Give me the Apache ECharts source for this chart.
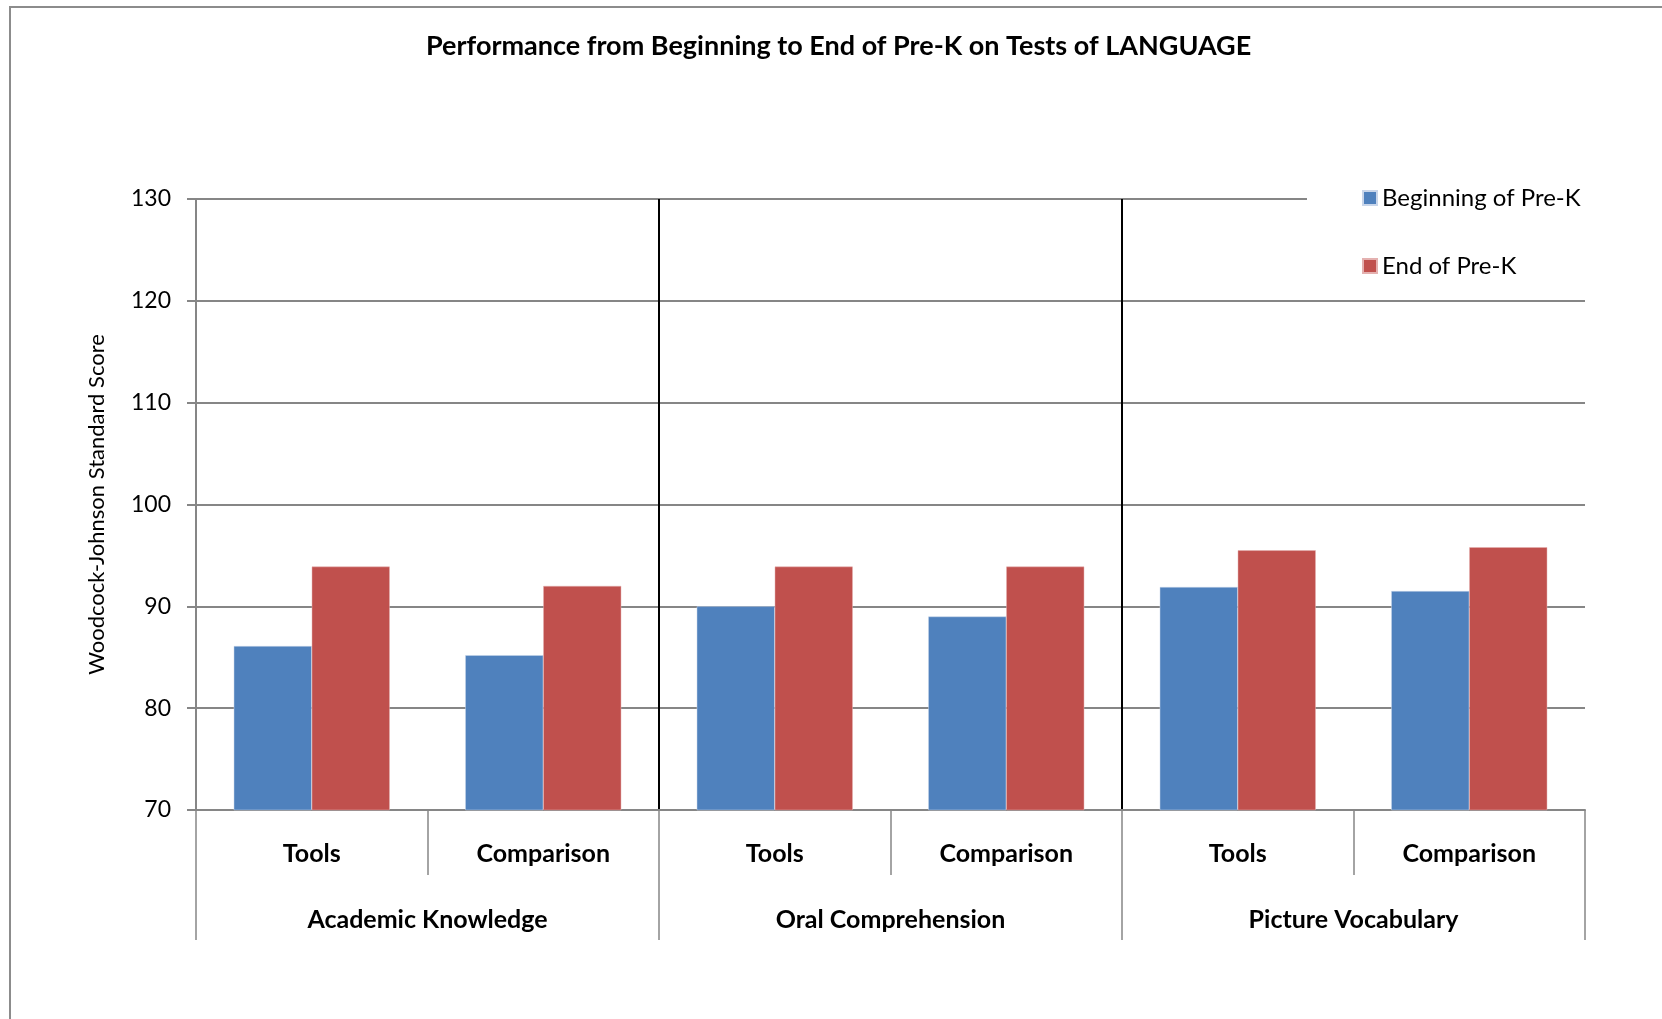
<!DOCTYPE html>
<html>
<head>
<meta charset="utf-8">
<script src="https://cdn.jsdelivr.net/npm/echarts@6/dist/echarts.min.js"></script>
<style>
    html, body { margin: 0; padding: 0; background: #fff; }
    .frame {
        position: absolute;
        left: 9px;
        top: 6px;
        width: 1800px;
        height: 1200px;
        border-left: 2px solid #8c8c8c;
        border-top: 2px solid #8c8c8c;
    }
    #main {
        position: absolute;
        left: 0;
        top: 0;
        width: 1662px;
        height: 1019px;
    }
</style>
</head>
<body>
<div class="frame"></div>
<div id="main"></div>
<script>
var conditions = ['Tools', 'Comparison', 'Tools', 'Comparison', 'Tools', 'Comparison'];
var tests = ['Academic Knowledge', 'Oral Comprehension', 'Picture Vocabulary'];
var beginning = [86.1, 85.2, 90.0, 89.0, 91.9, 91.5];
var ending = [93.9, 92.0, 93.9, 93.9, 95.5, 95.8];
var yTicks = [70, 80, 90, 100, 110, 120, 130];

var font = 'Lato, "Open Sans", sans-serif';
var gray = '#868686';

var myChart = echarts.init(document.getElementById('main'));

var option = {
    textStyle: { fontFamily: font },
    title: {
        text: 'Performance from Beginning to End of Pre-K on Tests of LANGUAGE',
        left: 421,
        top: 28,
        textStyle: { fontFamily: font, fontSize: 27, fontWeight: 'bold', color: '#000' }
    },
    legend: {
        orient: 'vertical',
        left: 1307,
        top: 168,
        padding: [18, 60, 18, 55],
        backgroundColor: '#fff',
        itemWidth: 14,
        itemHeight: 14,
        itemGap: 44,
        icon: 'rect',
        textStyle: { fontFamily: font, fontSize: 24, color: '#000' },
        data: ['Beginning of Pre-K', 'End of Pre-K']
    },
    grid: {
        left: 196,
        right: 77,
        top: 199,
        bottom: 209,
        containLabel: false
    },
    xAxis: [
        {
            type: 'category',
            data: conditions,
            position: 'bottom',
            axisLine: { show: true, lineStyle: { color: gray, width: 2 } },
            axisTick: { show: true, length: 65, lineStyle: { color: gray, width: 1.5 } },
            axisLabel: {
                margin: 31,
                fontFamily: font,
                fontSize: 25,
                fontWeight: 'bold',
                color: '#000'
            }
        },
        {
            type: 'category',
            data: tests,
            position: 'bottom',
            axisLine: { show: false },
            axisTick: { show: true, length: 130, lineStyle: { color: gray, width: 1.5 } },
            axisLabel: {
                margin: 97,
                fontFamily: font,
                fontSize: 25,
                fontWeight: 'bold',
                color: '#000'
            },
            splitLine: {
                show: true,
                showMinLine: false,
                showMaxLine: false,
                lineStyle: { color: '#000', width: 2 }
            }
        }
    ],
    yAxis: {
        type: 'value',
        min: yTicks[0],
        max: yTicks[yTicks.length - 1],
        interval: 10,
        name: 'Woodcock-Johnson Standard Score',
        nameLocation: 'middle',
        nameRotate: 90,
        nameGap: 88,
        nameTextStyle: { fontFamily: font, fontSize: 22, color: '#000' },
        axisLine: { show: true, lineStyle: { color: gray, width: 2 } },
        axisTick: { show: true, length: 9, lineStyle: { color: gray, width: 2 } },
        axisLabel: { margin: 25, fontFamily: font, fontSize: 23, color: '#000' },
        splitLine: { show: true, lineStyle: { color: gray, width: 2 } }
    },
    series: [
        {
            name: 'Beginning of Pre-K',
            type: 'bar',
            xAxisIndex: 0,
            data: beginning,
            barWidth: 78,
            barGap: '0%',
            itemStyle: { color: '#4F81BD', borderColor: '#c9d6ea', borderWidth: 0.5 }
        },
        {
            name: 'End of Pre-K',
            type: 'bar',
            xAxisIndex: 0,
            data: ending,
            barWidth: 78,
            barGap: '0%',
            itemStyle: { color: '#C0504D', borderColor: '#e4b1b0', borderWidth: 0.5 }
        }
    ]
};

myChart.setOption(option);
</script>
</body>
</html>
